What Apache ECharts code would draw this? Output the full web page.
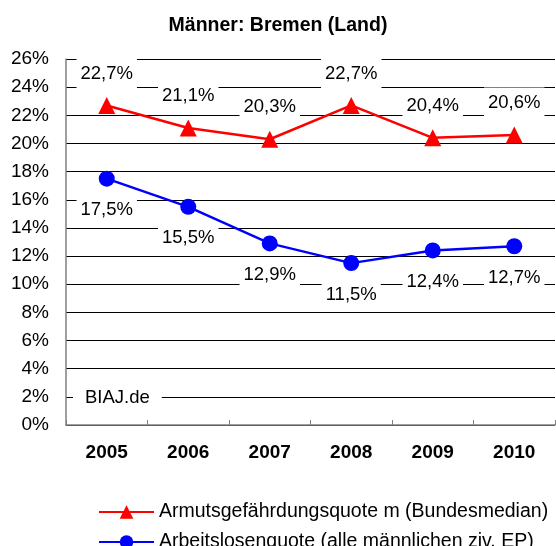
<!DOCTYPE html>
<html>
<head>
<meta charset="utf-8">
<script src="https://cdn.jsdelivr.net/npm/echarts@6/dist/echarts.min.js"></script>
<style>html,body{margin:0;padding:0;background:#fff}#c{width:556px;height:546px}</style>
</head>
<body>
<div id="c"></div>
<script>
const titleText = 'Männer: Bremen (Land)';
const years = ['2005','2006','2007','2008','2009','2010'];
const armutName = 'Armutsgefährdungsquote m (Bundesmedian)';
const armut = [22.7, 21.1, 20.3, 22.7, 20.4, 20.6];
const alqName = 'Arbeitslosenquote (alle männlichen ziv. EP)';
const alq = [17.5, 15.5, 12.9, 11.5, 12.4, 12.7];
const yMin = 0, yMax = 26, yStep = 2;
const sourceText = 'BIAJ.de';

const FONT = '"Liberation Sans", Arial, sans-serif';
const chart = echarts.init(document.getElementById('c'), null, {renderer: 'canvas'});
const fmt = p => p.value.toFixed(1).replace('.', ',') + '%';
const labelStyle = (pos) => ({
  show: true, position: pos, distance: 8, formatter: fmt,
  fontFamily: FONT, fontSize: 18.5, color: '#000',
  backgroundColor: '#fff', padding: [6, 4]
});
const legendCommon = {
  orient: 'horizontal', left: 93, itemWidth: 55, itemHeight: 17,
  textStyle: {fontFamily: FONT, fontSize: 19.5, color: '#000'}
};
chart.setOption({
  animation: false,
  backgroundColor: '#fff',
  title: {
    text: titleText, left: 'center', top: 11,
    textStyle: {fontFamily: FONT, fontSize: 19.5, fontWeight: 'bold', color: '#000'}
  },
  grid: {left: 66, right: 1, top: 59, bottom: 121, containLabel: false},
  xAxis: {
    type: 'category', data: years, boundaryGap: true,
    axisLine: {lineStyle: {color: '#808080', width: 1.5}},
    axisTick: {show: true, inside: true, length: 5, lineStyle: {color: '#808080'}},
    axisLabel: {fontFamily: FONT, fontSize: 19, fontWeight: 'bold', color: '#000', margin: 18},
    splitLine: {show: false}
  },
  yAxis: {
    type: 'value', min: yMin, max: yMax, interval: yStep,
    axisLine: {show: true, lineStyle: {color: '#808080', width: 1.5}},
    axisTick: {show: false},
    axisLabel: {fontFamily: FONT, fontSize: 19, color: '#000', margin: 17, formatter: v => v + '%'},
    splitLine: {show: true, lineStyle: {color: '#000', width: 1}}
  },
  legend: [
    Object.assign({top: 497, data: [armutName]}, legendCommon),
    Object.assign({top: 527, data: [alqName]}, legendCommon)
  ],
  graphic: [{
    type: 'text', left: 73, top: 386, z: 10,
    style: {text: sourceText, font: '18.5px ' + FONT, fill: '#000', backgroundColor: '#fff', padding: [2, 12]}
  }],
  series: [
    {
      name: armutName, type: 'line', data: armut,
      symbol: 'triangle', symbolSize: 17,
      lineStyle: {color: '#ff0000', width: 2.5},
      itemStyle: {color: '#ff0000'},
      label: labelStyle('top'), z: 3
    },
    {
      name: alqName, type: 'line', data: alq,
      symbol: 'circle', symbolSize: 16,
      lineStyle: {color: '#0000ff', width: 2.5},
      itemStyle: {color: '#0000ff'},
      label: labelStyle('bottom'), z: 3
    }
  ]
});
</script>
</body>
</html>
